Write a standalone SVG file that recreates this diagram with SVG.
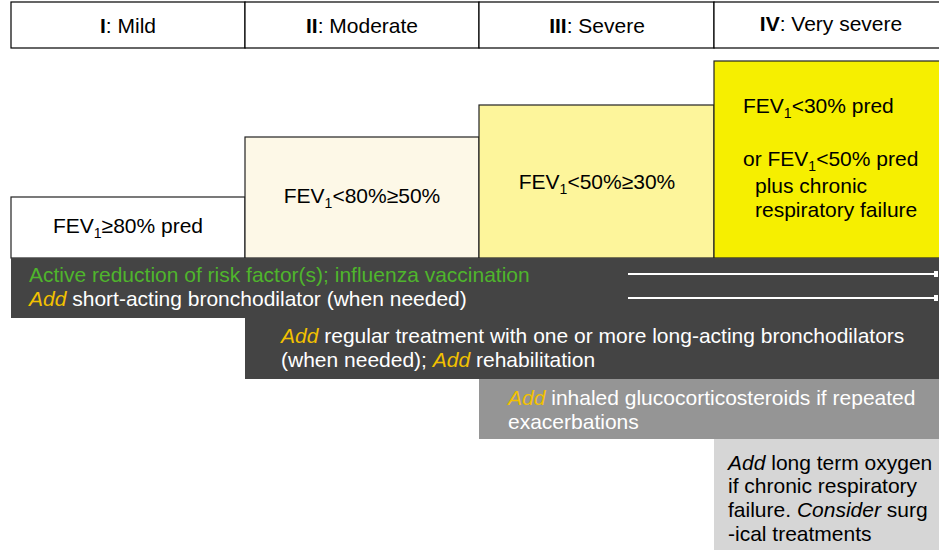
<svg xmlns="http://www.w3.org/2000/svg" width="939" height="550" viewBox="0 0 939 550">
<defs>
<style>
text{font-family:"Liberation Sans",Arial,sans-serif;font-size:21px;fill:#000}
.hdr{fill:#fff;stroke:#000;stroke-width:1.2}
.st{stroke:#222;stroke-width:1.2}
.w{fill:#fff}
.g{fill:#4fb52c}
.a{fill:#f2c100;font-style:italic}
.sub{font-size:14px}
.arr{stroke:#fff;stroke-width:2;fill:none}
</style>
<marker id="ah" viewBox="0 0 4 6" refX="3" refY="3" markerWidth="4" markerHeight="6" orient="auto" markerUnits="userSpaceOnUse">
<rect x="0" y="0" width="4" height="6" fill="#fff"/>
</marker>
</defs>
<rect width="939" height="550" fill="#fff"/>
<g id="headers">
<g id="h1"><rect class="hdr" x="11" y="2" width="234" height="46"/><text x="128" y="33" text-anchor="middle"><tspan font-weight="bold">I</tspan>: Mild</text></g>
<g id="h2"><rect class="hdr" x="245" y="2" width="234" height="46"/><text x="362" y="33" text-anchor="middle"><tspan font-weight="bold">II</tspan>: Moderate</text></g>
<g id="h3"><rect class="hdr" x="479" y="2" width="235" height="46"/><text x="597" y="33" text-anchor="middle"><tspan font-weight="bold">III</tspan>: Severe</text></g>
<g id="h4"><rect class="hdr" x="714" y="2" width="226" height="46"/><text x="831" y="31" text-anchor="middle"><tspan font-weight="bold">IV</tspan>: Very severe</text></g>
</g>
<g id="stage1"><rect class="st" x="11" y="197" width="234" height="61" fill="#fff"/><text x="128" y="233" text-anchor="middle">FEV<tspan class="sub" dy="5">1</tspan><tspan dy="-5">≥80% pred</tspan></text></g>
<g id="stage2"><rect class="st" x="245" y="137" width="234" height="121" fill="#fdf8e7"/><text x="362" y="203" text-anchor="middle">FEV<tspan class="sub" dy="5">1</tspan><tspan dy="-5">&lt;80%≥50%</tspan></text></g>
<g id="stage3"><rect class="st" x="479" y="105" width="235" height="153" fill="#fdf59b"/><text x="597" y="189" text-anchor="middle">FEV<tspan class="sub" dy="5">1</tspan><tspan dy="-5">&lt;50%≥30%</tspan></text></g>
<g id="stage4"><rect class="st" x="714" y="61" width="226" height="197" fill="#f6ef00"/>
<text x="743" y="113">FEV<tspan class="sub" dy="5">1</tspan><tspan dy="-5">&lt;30% pred</tspan></text>
<text x="743" y="166">or FEV<tspan class="sub" dy="5">1</tspan><tspan dy="-5">&lt;50% pred</tspan></text>
<text x="755" y="193">plus chronic</text>
<text x="755" y="217">respiratory failure</text>
</g>
<g id="band1"><rect x="11" y="258" width="928" height="60" fill="#444"/>
<text x="29" y="282" class="g">Active reduction of risk factor(s); influenza vaccination</text>
<text x="29" y="306" class="w"><tspan class="a">Add</tspan> short-acting bronchodilator (when needed)</text>
</g>
<g id="band2"><rect x="245" y="318" width="694" height="61" fill="#444"/>
<text x="281" y="343" class="w"><tspan class="a">Add</tspan> regular treatment with one or more long-acting bronchodilators</text>
<text x="281" y="367" class="w">(when needed); <tspan class="a">Add</tspan> rehabilitation</text>
</g>
<g id="band3"><rect x="479" y="379" width="460" height="60" fill="#959595"/>
<text x="508" y="405" class="w"><tspan class="a">Add</tspan> inhaled glucocorticosteroids if repeated</text>
<text x="508" y="429" class="w">exacerbations</text>
</g>
<g id="band4"><rect x="714" y="439" width="225" height="111" fill="#d6d6d6"/>
<text x="728" y="470"><tspan font-style="italic">Add</tspan> long term oxygen</text>
<text x="728" y="493">if chronic respiratory</text>
<text x="728" y="517">failure. <tspan font-style="italic">Consider</tspan> surg</text>
<text x="728" y="541">-ical treatments</text>
</g>
<g id="connectors">
<line class="arr" x1="628" y1="274" x2="937" y2="274" marker-end="url(#ah)"/>
<line class="arr" x1="628" y1="298" x2="937" y2="298" marker-end="url(#ah)"/>
</g>
</svg>
